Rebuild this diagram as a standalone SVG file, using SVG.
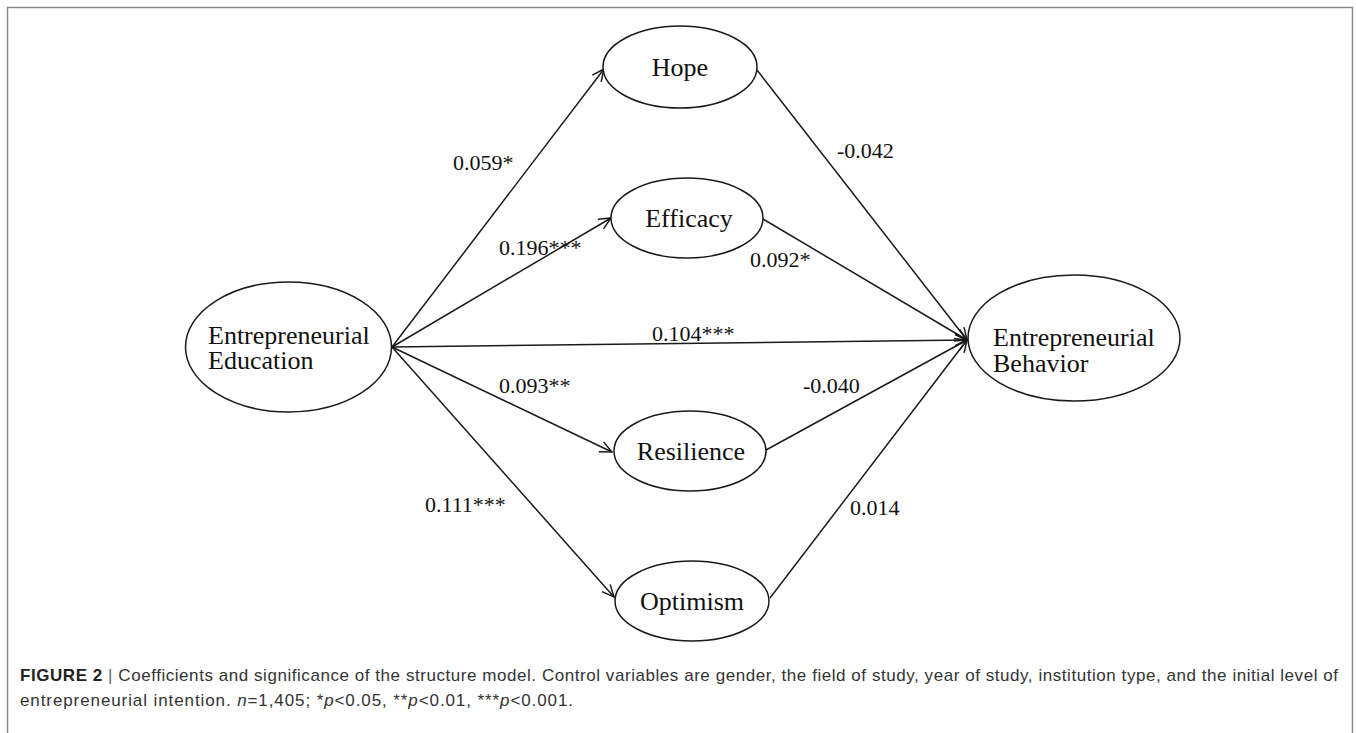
<svg xmlns="http://www.w3.org/2000/svg" width="1356" height="733" viewBox="0 0 1356 733">
<style>
.node ellipse{fill:#fff;stroke:#1a1a1a;stroke-width:1.5}
.nt{font-family:"Liberation Serif","Times New Roman",serif;font-size:26px;fill:#111}
.lb{font-family:"Liberation Serif","Times New Roman",serif;font-size:22px;fill:#111}
.edge line{stroke:#1a1a1a;stroke-width:1.5;marker-end:url(#arr)}
.cap{font-family:"Liberation Sans",Arial,sans-serif;font-size:17px;fill:#333}
</style>
<defs>
<marker id="arr" markerUnits="userSpaceOnUse" markerWidth="16" markerHeight="14" refX="13" refY="7" orient="auto">
<path d="M1,1.5 L13,7 L1,12.5" fill="none" stroke="#1a1a1a" stroke-width="1.5"/>
</marker>
</defs>
<rect width="1356" height="733" fill="#fff"/>
<path d="M7.5,733 V7.5 H1352.5 V733" fill="none" stroke="#888" stroke-width="1.5"/>
<g id="connectors" class="edge">
<line x1="392" y1="347" x2="604" y2="69"/>
<line x1="392" y1="347" x2="611" y2="218"/>
<line x1="392" y1="347" x2="967" y2="340"/>
<line x1="392" y1="347" x2="612" y2="452"/>
<line x1="392" y1="347" x2="614" y2="597"/>
<line x1="757" y1="70" x2="967" y2="340"/>
<line x1="763" y1="219" x2="967" y2="340"/>
<line x1="766" y1="450" x2="967" y2="340"/>
<line x1="770" y1="598" x2="967" y2="340"/>
</g>
<g id="labels">
<text class="lb" x="453" y="170">0.059*</text>
<text class="lb" x="499" y="255">0.196***</text>
<text class="lb" x="652" y="341">0.104***</text>
<text class="lb" x="499" y="393">0.093**</text>
<text class="lb" x="425" y="512">0.111***</text>
<text class="lb" x="837" y="158">-0.042</text>
<text class="lb" x="750" y="267">0.092*</text>
<text class="lb" x="803" y="393">-0.040</text>
<text class="lb" x="850" y="515">0.014</text>
</g>
<g id="node-education" class="node">
<ellipse cx="288.5" cy="347" rx="103" ry="65"/>
<text class="nt" x="208" y="344">Entrepreneurial<tspan x="208" dy="25">Education</tspan></text>
</g>
<g id="node-hope" class="node">
<ellipse cx="680" cy="67" rx="77" ry="41"/>
<text class="nt" x="680" y="76" text-anchor="middle">Hope</text>
</g>
<g id="node-efficacy" class="node">
<ellipse cx="687" cy="218" rx="76" ry="40"/>
<text class="nt" x="689" y="227" text-anchor="middle">Efficacy</text>
</g>
<g id="node-behavior" class="node">
<ellipse cx="1074" cy="338" rx="106" ry="63"/>
<text class="nt" x="993" y="346">Entrepreneurial<tspan x="993" dy="26">Behavior</tspan></text>
</g>
<g id="node-resilience" class="node">
<ellipse cx="690" cy="451" rx="76" ry="40"/>
<text class="nt" x="691" y="460" text-anchor="middle">Resilience</text>
</g>
<g id="node-optimism" class="node">
<ellipse cx="692" cy="601" rx="77" ry="40"/>
<text class="nt" x="692" y="610" text-anchor="middle">Optimism</text>
</g>
<g id="caption">
<text class="cap" x="20" y="681" textLength="1318" lengthAdjust="spacing"><tspan font-weight="bold" fill="#222">FIGURE 2</tspan> <tspan fill="#666">|</tspan> Coefficients and significance of the structure model. Control variables are gender, the field of study, year of study, institution type, and the initial level of</text>
<text class="cap" x="20" y="706" textLength="553" lengthAdjust="spacing">entrepreneurial intention. <tspan font-style="italic">n</tspan>=1,405; *<tspan font-style="italic">p</tspan>&lt;0.05, **<tspan font-style="italic">p</tspan>&lt;0.01, ***<tspan font-style="italic">p</tspan>&lt;0.001.</text>
</g>
</svg>
